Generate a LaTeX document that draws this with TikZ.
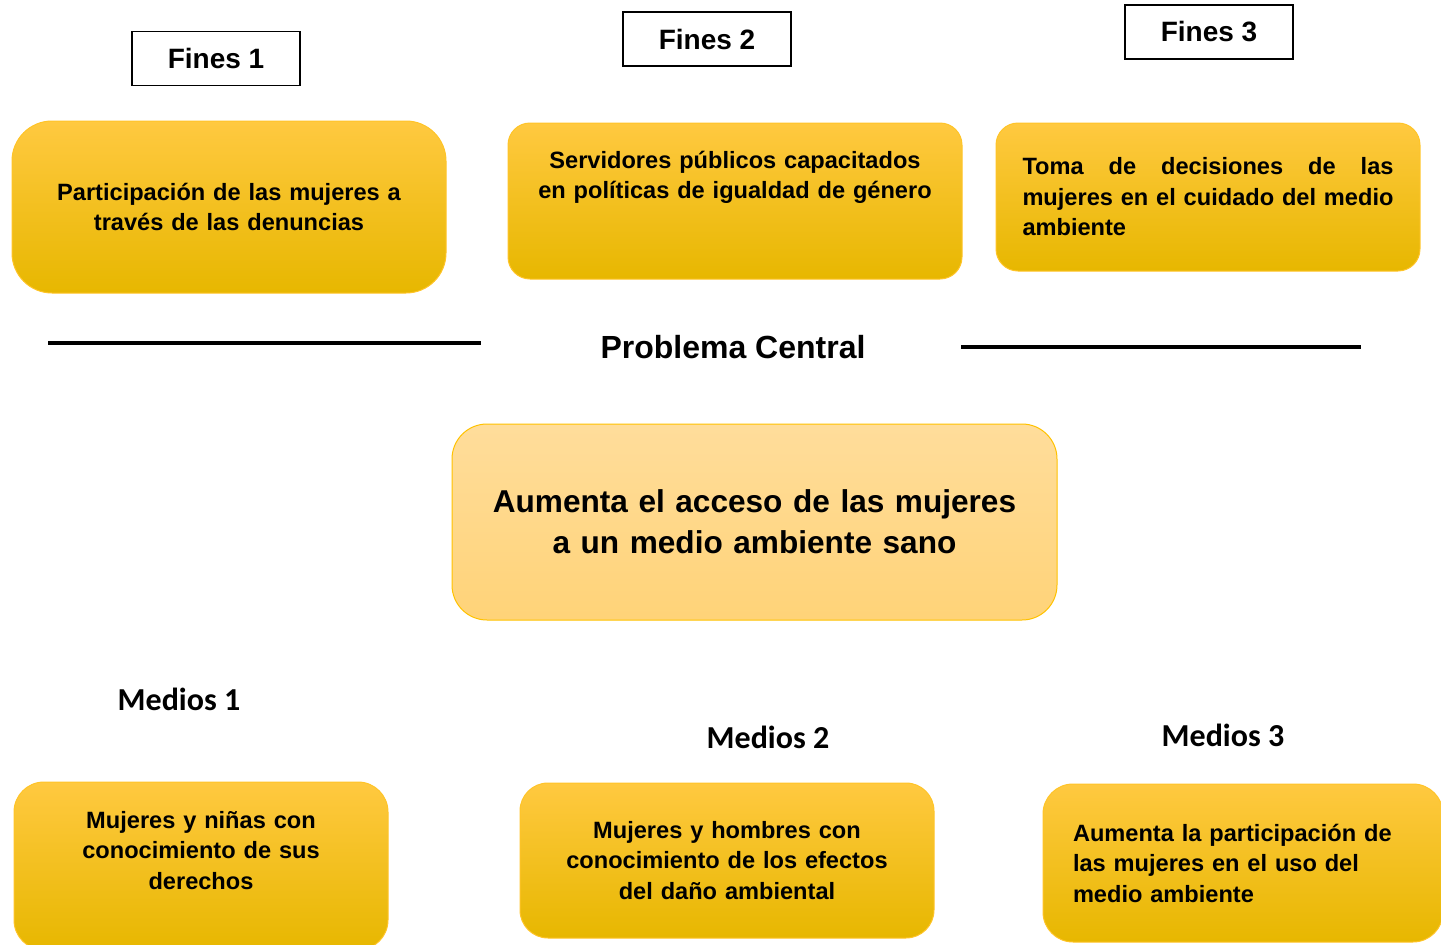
\documentclass[tikz,border=0pt]{standalone}
\usepackage{fontspec}
\setmainfont{Liberation Sans}
\newfontfamily\medfont{Carlito}
\usepackage{tikz}
\usetikzlibrary{positioning, shapes, backgrounds, calc}

\definecolor{goldtop}{RGB}{255,201,64}
\definecolor{goldmid}{RGB}{255,194,0}
\definecolor{goldbot}{RGB}{231,183,0}
\definecolor{goldline}{RGB}{255,196,40}
\definecolor{peachtop}{RGB}{255,221,155}
\definecolor{peachbot}{RGB}{255,211,120}

\begin{document}
\begin{tikzpicture}[x=1pt, y=-1pt,
  finbox/.style={draw, line width=1.8pt, fill=white, minimum width=168pt, minimum height=54pt, inner sep=0pt, font=\fontsize{28}{32}\selectfont\bfseries},
  goldbox/.style={draw=goldline, line width=1pt, top color=goldtop, middle color=goldmid, bottom color=goldbot, inner sep=0pt, align=center, font=\fontsize{23.6}{30.5}\selectfont\bfseries},
  medlbl/.style={font=\fontsize{32}{36}\selectfont\medfont\bfseries},
  rule/.style={line width=3.2pt}]

  \clip (0,0) rectangle (1441,945);

  % fines
  \node[finbox] (fin1) at (216,58.5) {Fines 1};
  \node[finbox] (fin2) at (707,39) {Fines 2};
  \node[finbox] (fin3) at (1209,32) {Fines 3};

  \node[goldbox, rounded corners=40pt, minimum width=434pt, minimum height=172pt, text width=400pt] (f1) at (229,207)
    {Participación de las mujeres a\\ través de las denuncias};
  \node[goldbox, rounded corners=22pt, minimum width=454pt, minimum height=156pt, text width=420pt, text height=18pt, text depth=84pt] (f2) at (735,201)
    {Servidores públicos capacitados\\ en políticas de igualdad de género};
  \node[goldbox, rounded corners=22pt, minimum width=424pt, minimum height=148pt, text width=371pt, align=justify] (f3) at (1208,197)
    {Toma de decisiones de las\linebreak mujeres en el cuidado del medio\linebreak ambiente};

  % problema central
  \node[font=\fontsize{32}{36}\selectfont\bfseries] (prob) at (733,347) {Problema Central};
  \coordinate (l1a) at (48,343);
  \coordinate (l1b) at (481,343);
  \coordinate (l2a) at (961,347);
  \coordinate (l2b) at (1361,347);
  \draw[rule] (l1a) -- (l1b);
  \draw[rule] (l2a) -- (l2b);

  \node[draw=goldmid, line width=1pt, top color=peachtop, bottom color=peachbot, rounded corners=35pt, minimum width=605pt, minimum height=196pt, text width=580pt, align=center, font=\fontsize{31.6}{41}\selectfont\bfseries] (central) at (754.5,522)
    {Aumenta el acceso de las mujeres\\ a un medio ambiente sano};

  % medios
  \node[medlbl] (med1) at (179,699) {Medios 1};
  \node[medlbl] (med2) at (768,737) {Medios 2};
  \node[medlbl] (med3) at (1223,735) {Medios 3};

  \node[goldbox, rounded corners=30pt, minimum width=374pt, minimum height=168pt, text width=340pt, text height=18pt, text depth=94pt] (m1) at (201,866)
    {Mujeres y niñas con\\ conocimiento de sus\\ derechos};
  \node[goldbox, rounded corners=28pt, minimum width=414pt, minimum height=155pt, text width=380pt] (m2) at (727,860.5)
    {Mujeres y hombres con\\ conocimiento de los efectos\\ del daño ambiental};
  \node[goldbox, rounded corners=30pt, minimum width=400pt, minimum height=158pt, text width=340pt, align=left] (m3) at (1243,863)
    {Aumenta la participación de\\ las mujeres en el uso del\\ medio ambiente};

\end{tikzpicture}
\end{document}
